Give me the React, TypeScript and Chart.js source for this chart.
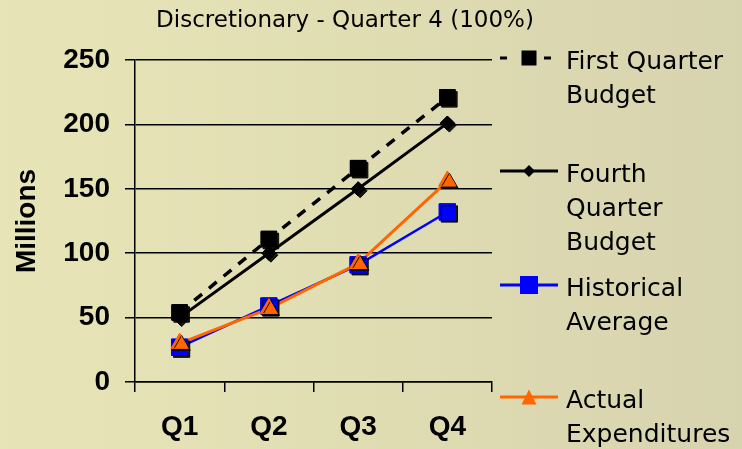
import React, { useEffect, useRef } from 'react';
import { Chart, registerables } from 'chart.js';

Chart.register(...registerables);

const categories = ['Q1', 'Q2', 'Q3', 'Q4'];
const firstQuarterBudget = [54, 111, 166, 221];
const fourthQuarterBudget = [50, 100, 150, 201];
const historicalAverage = [27, 59, 91, 132];
const actualExpenditures = [30, 57, 92, 156];
const yMin = 0;
const yMax = 250;
const yStep = 50;
const chartTitle = 'Discretionary - Quarter 4 (100%)';
const yAxisTitle = 'Millions';
const legendLines = [
  ['First Quarter', 'Budget'],
  ['Fourth', 'Quarter', 'Budget'],
  ['Historical', 'Average'],
  ['Actual', 'Expenditures'],
];

const BLACK = '#000000';
const BLUE = '#0000ff';
const ORANGE = '#ff6600';

function drawMarker(ctx: CanvasRenderingContext2D, style: string, x: number, y: number, size: number, color: string) {
  ctx.save();
  ctx.fillStyle = color;
  ctx.beginPath();
  if (style === 'rect') {
    ctx.rect(x - size / 2, y - size / 2, size, size);
  } else if (style === 'rectRot') {
    ctx.moveTo(x, y - size / 2);
    ctx.lineTo(x + size / 2, y);
    ctx.lineTo(x, y + size / 2);
    ctx.lineTo(x - size / 2, y);
    ctx.closePath();
  } else if (style === 'triangle') {
    ctx.moveTo(x, y - size / 2);
    ctx.lineTo(x + size / 2, y + size / 2);
    ctx.lineTo(x - size / 2, y + size / 2);
    ctx.closePath();
  }
  ctx.fill();
  ctx.restore();
}

const markerShadowPlugin = {
  id: 'markerShadow',
  afterDatasetsDraw(chart: any) {
    const ctx = chart.ctx as CanvasRenderingContext2D;
    const metas = chart.getSortedVisibleDatasetMetas();
    ctx.save();
    ctx.shadowColor = 'rgba(0,0,0,0.9)';
    ctx.shadowOffsetX = 2;
    ctx.shadowOffsetY = 2;
    ctx.shadowBlur = 0;
    for (let i = metas.length - 1; i >= 0; i--) {
      metas[i].data.forEach((pt: any) => pt.draw(ctx, chart.chartArea));
    }
    ctx.restore();
  },
};

const titleLegendPlugin = {
  id: 'titleLegend',
  afterDraw(chart: any) {
    const ctx = chart.ctx as CanvasRenderingContext2D;
    const area = chart.chartArea;
    ctx.save();
    // title
    ctx.fillStyle = '#000';
    ctx.font = '23px "DejaVu Sans"';
    ctx.textAlign = 'center';
    ctx.textBaseline = 'alphabetic';
    ctx.fillText(chartTitle, area.left + 210, area.top - 33);

    // legend
    const offsets = [-2, 111, 225, 337];
    const markerSizes = [15, 12, 18, 15];
    chart.data.datasets.forEach((ds: any, i: number) => {
      const ly = area.top + offsets[i];
      const x0 = area.right + 6;
      const x1 = area.right + 66;
      const mx = area.right + 37;
      ctx.save();
      ctx.strokeStyle = ds.borderColor;
      ctx.lineWidth = 3;
      if (ds.borderDash && ds.borderDash.length) {
        ctx.setLineDash([7, 15]);
      }
      ctx.beginPath();
      ctx.moveTo(x0 + 2, ly);
      ctx.lineTo(ds.borderDash && ds.borderDash.length ? x1 - 6 : x1, ly);
      ctx.stroke();
      ctx.restore();
      drawMarker(ctx, ds.pointStyle, mx, ly, markerSizes[i], ds.pointBackgroundColor);
      ctx.fillStyle = '#000';
      ctx.font = '25px "DejaVu Sans"';
      ctx.textAlign = 'left';
      ctx.textBaseline = 'alphabetic';
      legendLines[i].forEach((line, j) => {
        ctx.fillText(line, area.right + 74, ly + 10.5 + j * 34);
      });
    });
    ctx.restore();
  },
};

export default function App() {
  const canvasRef = useRef<HTMLCanvasElement | null>(null);

  useEffect(() => {
    const canvas = canvasRef.current;
    if (!canvas) return;
    const tickFont = { family: '"Liberation Sans", Arial, sans-serif', size: 28, weight: 'bold' as const };
    const chart = new Chart(canvas, {
      type: 'line',
      data: {
        labels: categories,
        datasets: [
          {
            label: legendLines[0].join(' '),
            data: firstQuarterBudget,
            borderColor: BLACK,
            borderWidth: 3.5,
            borderDash: [10, 9],
            pointStyle: 'rect',
            pointRadius: 11,
            pointBackgroundColor: BLACK,
            pointBorderColor: BLACK,
            pointBorderWidth: 1,
            fill: false,
            tension: 0,
            order: 1,
          },
          {
            label: legendLines[1].join(' '),
            data: fourthQuarterBudget,
            borderColor: BLACK,
            borderWidth: 3,
            pointStyle: 'rectRot',
            pointRadius: 7,
            pointBackgroundColor: BLACK,
            pointBorderColor: BLACK,
            pointBorderWidth: 1,
            fill: false,
            tension: 0,
            order: 2,
          },
          {
            label: legendLines[2].join(' '),
            data: historicalAverage,
            borderColor: BLUE,
            borderWidth: 2.5,
            pointStyle: 'rect',
            pointRadius: 11.5,
            pointBackgroundColor: BLUE,
            pointBorderColor: BLUE,
            pointBorderWidth: 1,
            fill: false,
            tension: 0,
            order: 4,
          },
          {
            label: legendLines[3].join(' '),
            data: actualExpenditures,
            borderColor: ORANGE,
            borderWidth: 3,
            pointStyle: 'triangle',
            pointRadius: 10,
            pointBackgroundColor: ORANGE,
            pointBorderColor: ORANGE,
            pointBorderWidth: 1,
            fill: false,
            tension: 0,
            order: 3,
          },
        ],
      },
      options: {
        responsive: false,
        animation: false,
        events: [],
        layout: { padding: { top: 60, right: 250, left: 0, bottom: 0 } },
        plugins: {
          legend: { display: false },
          title: { display: false },
          tooltip: { enabled: false },
        },
        scales: {
          x: {
            type: 'category',
            offset: true,
            border: { display: true, color: BLACK, width: 1.5 },
            grid: {
              offset: true,
              drawOnChartArea: false,
              drawTicks: true,
              tickLength: 10,
              color: BLACK,
              lineWidth: 1.5,
            },
            ticks: { font: tickFont, color: BLACK, padding: 18, maxRotation: 0 },
            afterFit: (scale: any) => {
              scale.height = 67;
            },
          },
          y: {
            min: yMin,
            max: yMax,
            border: { display: true, color: BLACK, width: 1.5 },
            grid: {
              drawTicks: true,
              tickLength: 10,
              color: BLACK,
              lineWidth: 1.5,
            },
            ticks: { stepSize: yStep, font: tickFont, color: BLACK, padding: 15 },
            title: {
              display: true,
              text: yAxisTitle,
              font: tickFont,
              color: BLACK,
              padding: { top: 10, bottom: 0 },
            },
            afterFit: (scale: any) => {
              scale.width = 135;
            },
          },
        },
      },
      plugins: [markerShadowPlugin, titleLegendPlugin],
    } as any);
    return () => chart.destroy();
  }, []);

  return (
    <div
      style={{
        position: 'fixed',
        left: 0,
        top: 0,
        width: 742,
        height: 449,
        background: 'linear-gradient(90deg, #e7e5b7 0%, #e0ddb3 50%, #d6d3af 100%)',
      }}
    >
      <canvas ref={canvasRef} width={742} height={449} style={{ display: 'block', width: 742, height: 449 }} />
    </div>
  );
}
